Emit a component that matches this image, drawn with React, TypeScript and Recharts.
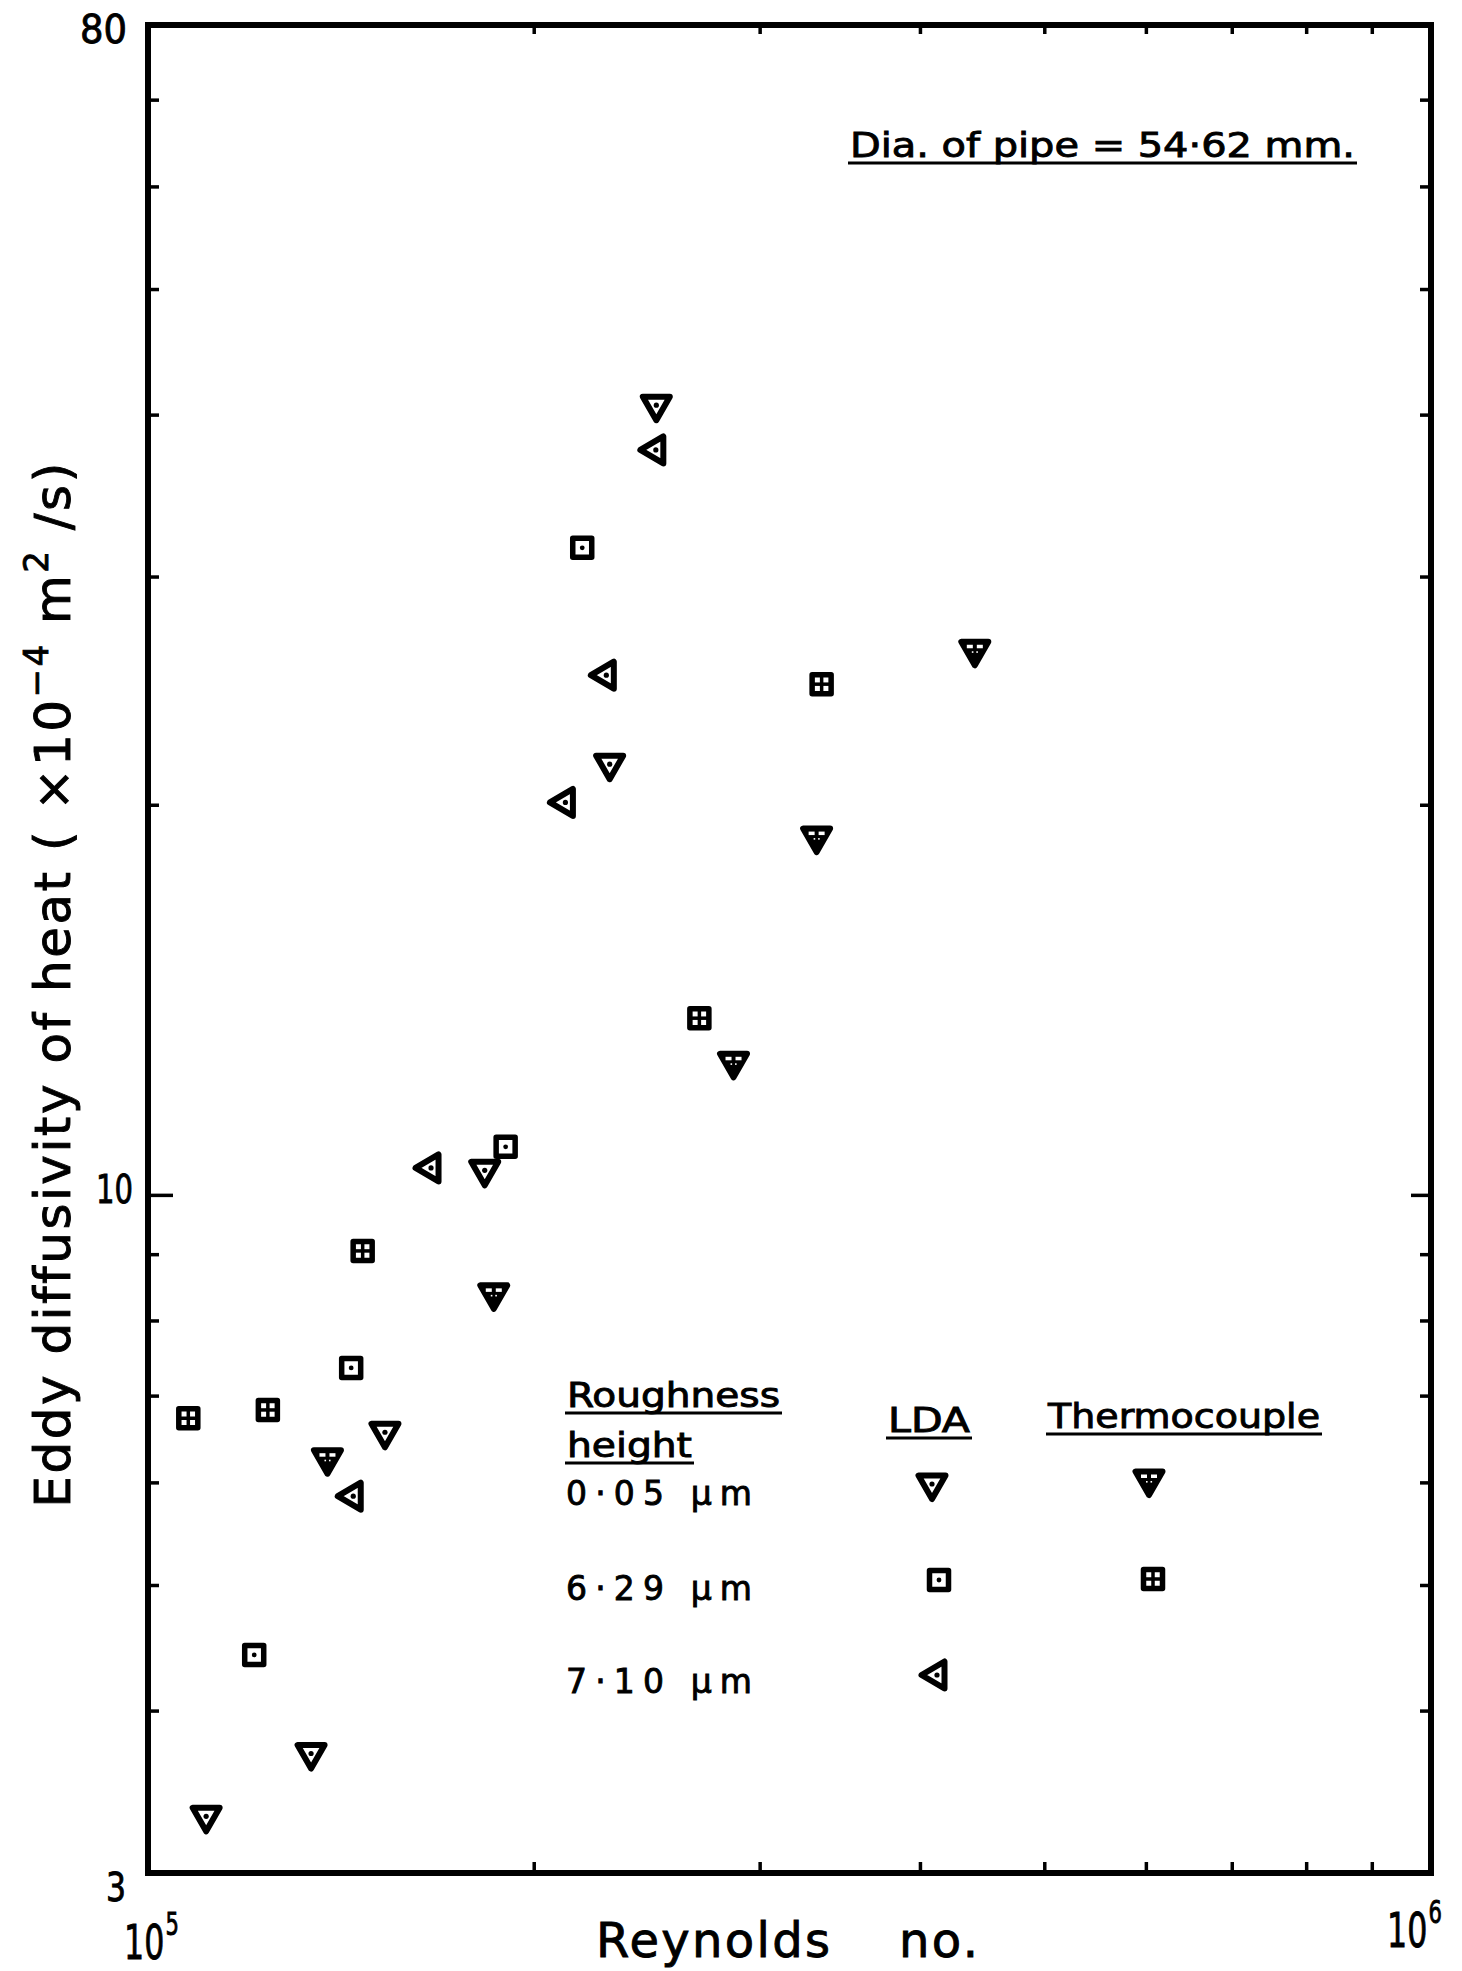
import React from "react";
import { ScatterChart, Scatter, XAxis, YAxis } from "recharts";

const W = 1462;
const H = 1971;
const FONT = '"DejaVu Sans", "Liberation Sans", sans-serif';
const INK = "#000";

// Reynolds number vs eddy diffusivity of heat (x10^-4 m2/s)
const ldaSmoothRe = [1.11e5, 1.34e5, 1.53e5, 1.83e5, 2.29e5, 2.49e5];
const ldaSmoothEps = [3.3, 3.69, 6.53, 10.4, 21.4, 40.5];

const tcSmoothRe = [1.38e5, 1.86e5, 2.86e5, 3.32e5, 4.41e5];
const tcSmoothEps = [6.23, 8.35, 12.6, 18.8, 26.2];

const ldaRough629Re = [1.21e5, 1.44e5, 1.9e5, 2.18e5];
const ldaRough629Eps = [4.42, 7.36, 10.9, 31.6];

const tcRough629Re = [1.075e5, 1.24e5, 1.47e5, 2.69e5, 3.35e5];
const tcRough629Eps = [6.73, 6.83, 9.06, 13.7, 24.8];

const ldaRough710Re = [1.435e5, 1.65e5, 2.1e5, 2.26e5, 2.47e5];
const ldaRough710Eps = [5.86, 10.5, 20.1, 25.2, 37.6];

const reTicks = [1e5, 2e5, 3e5, 4e5, 5e5, 6e5, 7e5, 8e5, 9e5, 1e6];
const epsTicks = [3, 4, 5, 6, 7, 8, 9, 10, 20, 30, 40, 50, 60, 70, 80];
const epsLabels: Record<number, string> = { 3: "3", 10: "10", 80: "80" };

const roughnessRows = ["0·05 μm", "6·29 μm", "7·10 μm"];

const pts = (re: number[], eps: number[]) => re.map((r, i) => ({ re: r, eps: eps[i] }));

// heavier "stencil" lettering
const inkText = { fontFamily: FONT, fill: INK, stroke: INK, strokeWidth: 0.9 };

// ---- markers ----
const triDown = (cx: number, cy: number) =>
  `M${cx - 13.5},${cy - 11.5} L${cx + 13.5},${cy - 11.5} L${cx},${cy + 12} Z`;

function OpenDown({ cx, cy }: any) {
  return (
    <g>
      <path d={triDown(cx, cy)} fill="#fff" stroke={INK} strokeWidth={6} strokeLinejoin="round" />
      <circle cx={cx} cy={cy - 3} r={2.6} fill={INK} />
    </g>
  );
}

function SolidDown({ cx, cy }: any) {
  return (
    <g>
      <path d={triDown(cx, cy)} fill={INK} stroke={INK} strokeWidth={6} strokeLinejoin="round" />
      <rect x={cx - 8} y={cy - 8.5} width={6} height={3.5} fill="#fff" />
      <rect x={cx + 2} y={cy - 8.5} width={6} height={3.5} fill="#fff" />
      <rect x={cx - 3} y={cy - 2} width={1.6} height={1.6} fill="#fff" />
      <rect x={cx + 1.5} y={cy - 2} width={1.6} height={1.6} fill="#fff" />
    </g>
  );
}

function DotSquare({ cx, cy }: any) {
  return (
    <g>
      <rect x={cx - 9.5} y={cy - 9.5} width={19} height={19} fill="#fff" stroke={INK} strokeWidth={5.5} strokeLinejoin="round" />
      <circle cx={cx} cy={cy} r={2.4} fill={INK} />
    </g>
  );
}

function CrossSquare({ cx, cy }: any) {
  return (
    <g>
      <rect x={cx - 9.5} y={cy - 9.5} width={19} height={19} fill="#fff" stroke={INK} strokeWidth={5.5} strokeLinejoin="round" />
      <line x1={cx} x2={cx} y1={cy - 9.5} y2={cy + 9.5} stroke={INK} strokeWidth={3.5} />
      <line x1={cx - 9.5} x2={cx + 9.5} y1={cy} y2={cy} stroke={INK} strokeWidth={3.5} />
    </g>
  );
}

function OpenLeft({ cx, cy }: any) {
  return (
    <g>
      <path d={`M${cx - 11.5},${cy} L${cx + 11.5},${cy - 13.5} L${cx + 11.5},${cy + 13.5} Z`} fill="#fff" stroke={INK} strokeWidth={6} strokeLinejoin="round" />
      <circle cx={cx + 4} cy={cy} r={2.6} fill={INK} />
    </g>
  );
}

// ---- ticks (all drawn inward from the frame) ----
const TICK_W = 3.5;

function BottomTick({ x, y, payload }: any) {
  const v = payload.value;
  if (v === 1e5 || v === 1e6) {
    const first = v === 1e5;
    const tx = first ? x - 24 : x - 44;
    const ty = first ? y + 86 : y + 74;
    return (
      <text transform={`translate(${tx},${ty}) scale(0.66,1)`} fontSize={48} {...inkText}>
        10<tspan dx={2} dy={-24} fontSize={32}>{first ? "5" : "6"}</tspan>
      </text>
    );
  }
  return <line x1={x} x2={x} y1={y} y2={y - 11} stroke={INK} strokeWidth={TICK_W} />;
}

function TopTick({ x, y, payload }: any) {
  const v = payload.value;
  if (v === 1e5 || v === 1e6) return <g />;
  return <line x1={x} x2={x} y1={y} y2={y + 9} stroke={INK} strokeWidth={TICK_W} />;
}

function LeftTick({ x, y, payload }: any) {
  const v = payload.value;
  const label = epsLabels[v];
  const off: Record<number, [number, number, number]> = { 80: [-21, 18, 47], 10: [-15, 8, 37], 3: [-22, 28, 20] };
  return (
    <g>
      {v !== 3 && v !== 80 && (
        <line x1={x} x2={x + (v === 10 ? 25 : 11)} y1={y} y2={y} stroke={INK} strokeWidth={TICK_W} />
      )}
      {label && (
        <text x={x + off[v][0]} y={y + off[v][1]} textAnchor="end" fontSize={39} {...inkText} textLength={off[v][2]} lengthAdjust="spacingAndGlyphs">
          {label}
        </text>
      )}
    </g>
  );
}

function RightTick({ x, y, payload }: any) {
  const v = payload.value;
  if (v === 3 || v === 80) return <g />;
  return <line x1={x} x2={x - (v === 10 ? 20 : 11)} y1={y} y2={y} stroke={INK} strokeWidth={TICK_W} />;
}

const frame = { stroke: INK, strokeWidth: 6, strokeLinecap: "square" as const };

function Underlined({ x, y, text, len, size = 33 }: { x: number; y: number; text: string; len: number; size?: number }) {
  return (
    <g>
      <text x={x} y={y} fontSize={size} {...inkText} textLength={len} lengthAdjust="spacingAndGlyphs">
        {text}
      </text>
      <line x1={x - 2} x2={x + len + 2} y1={y + 6} y2={y + 6} stroke={INK} strokeWidth={3.2} />
    </g>
  );
}

export default function App() {
  return (
    <div style={{ position: "absolute", left: 0, top: 0, width: W, height: H, background: "#fff" }}>
      <ScatterChart width={W} height={H} margin={{ top: 20, right: 26, bottom: 8, left: 8 }}>
        <XAxis xAxisId="b" type="number" dataKey="re" scale="log" domain={[1e5, 1e6]} allowDataOverflow ticks={reTicks} interval={0} height={90} tickSize={0} tickMargin={0} tickLine={false} axisLine={frame} tick={BottomTick} />
        <XAxis xAxisId="t" orientation="top" type="number" dataKey="re" scale="log" domain={[1e5, 1e6]} allowDataOverflow ticks={reTicks} interval={0} height={5} tickSize={0} tickMargin={0} tickLine={false} axisLine={frame} tick={TopTick} />
        <YAxis yAxisId="l" type="number" dataKey="eps" scale="log" domain={[3, 80]} allowDataOverflow ticks={epsTicks} interval={0} width={140} tickSize={0} tickMargin={0} tickLine={false} axisLine={frame} tick={LeftTick} />
        <YAxis yAxisId="r" orientation="right" type="number" dataKey="eps" scale="log" domain={[3, 80]} allowDataOverflow ticks={epsTicks} interval={0} width={5} tickSize={0} tickMargin={0} tickLine={false} axisLine={frame} tick={RightTick} />

        <Scatter name="LDA 0.05 µm" xAxisId="b" yAxisId="l" data={pts(ldaSmoothRe, ldaSmoothEps)} shape={OpenDown} isAnimationActive={false} />
        <Scatter name="LDA 6.29 µm" xAxisId="b" yAxisId="l" data={pts(ldaRough629Re, ldaRough629Eps)} shape={DotSquare} isAnimationActive={false} />
        <Scatter name="LDA 7.10 µm" xAxisId="b" yAxisId="l" data={pts(ldaRough710Re, ldaRough710Eps)} shape={OpenLeft} isAnimationActive={false} />
        <Scatter name="Thermocouple 0.05 µm" xAxisId="t" yAxisId="r" data={pts(tcSmoothRe, tcSmoothEps)} shape={SolidDown} isAnimationActive={false} />
        <Scatter name="Thermocouple 6.29 µm" xAxisId="t" yAxisId="r" data={pts(tcRough629Re, tcRough629Eps)} shape={CrossSquare} isAnimationActive={false} />
      </ScatterChart>

      <svg width={W} height={H} style={{ position: "absolute", left: 0, top: 0, pointerEvents: "none" }}>
        {/* axis titles */}
        <text transform="translate(70,984) rotate(-90)" textAnchor="middle" fontSize={50} letterSpacing={2.5} {...inkText}>
          Eddy diffusivity of heat ( ×10
          <tspan dy={-22} fontSize={34}>−4</tspan>
          <tspan dy={22}> m</tspan>
          <tspan dy={-22} fontSize={34}>2</tspan>
          <tspan dy={22}> /s)</tspan>
        </text>
        <text x={596} y={1957} fontSize={48} {...inkText} textLength={234} lengthAdjust="spacing">Reynolds</text>
        <text x={899} y={1957} fontSize={48} {...inkText} textLength={79} lengthAdjust="spacing">no.</text>

        {/* pipe note */}
        <Underlined x={850} y={157} text="Dia. of pipe = 54·62 mm." len={505} size={34} />

        {/* key */}
        <Underlined x={567} y={1407} text="Roughness" len={213} />
        <Underlined x={567} y={1457} text="height" len={125} />
        <Underlined x={888} y={1432} text="LDA" len={82} />
        <Underlined x={1048} y={1428} text="Thermocouple" len={272} />
        {roughnessRows.map((t, i) => (
          <text key={t} x={566} y={[1505, 1600, 1693][i]} fontSize={33} {...inkText} textLength={186} lengthAdjust="spacing">
            {t}
          </text>
        ))}
        <OpenDown cx={932} cy={1487} />
        <DotSquare cx={939} cy={1580} />
        <OpenLeft cx={933} cy={1675} />
        <SolidDown cx={1149} cy={1483} />
        <CrossSquare cx={1153} cy={1579} />
      </svg>
    </div>
  );
}
